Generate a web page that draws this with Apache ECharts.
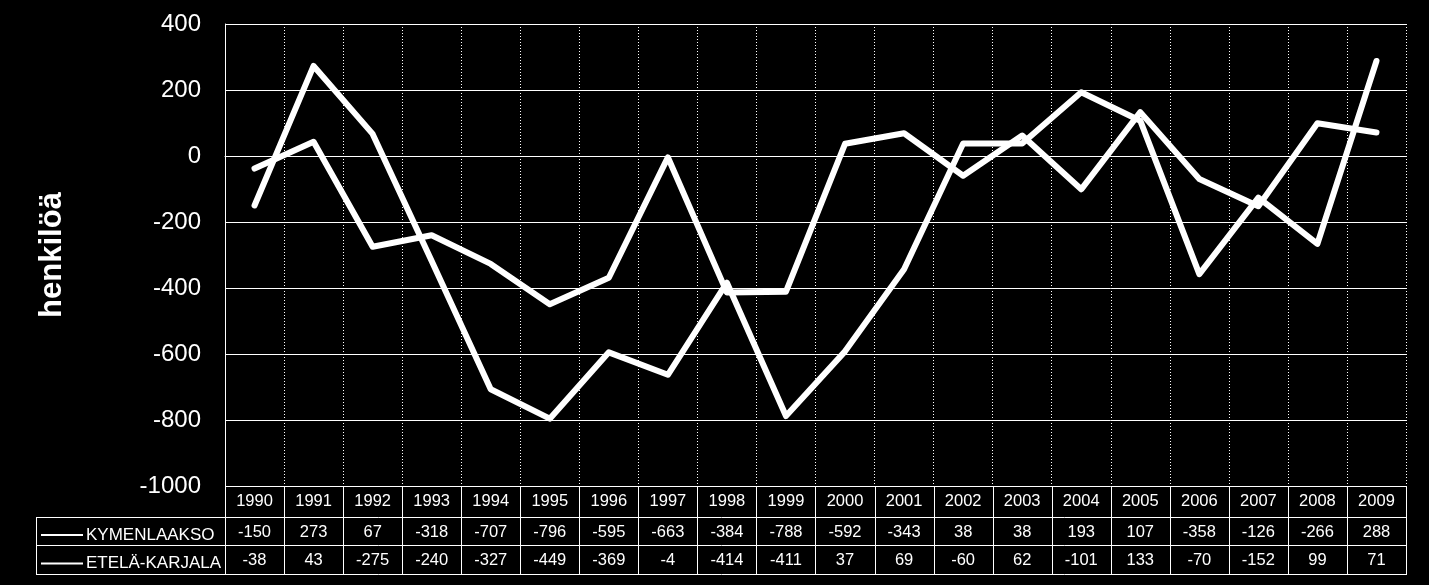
<!DOCTYPE html>
<html>
<head>
<meta charset="utf-8">
<style>
html,body{margin:0;padding:0;background:#000;}
#chart{width:1429px;height:585px;}
</style>
<script src="https://cdn.jsdelivr.net/npm/echarts@6/dist/echarts.min.js"></script>
</head>
<body>
<div id="chart"></div>
<script>
var years = ['1990','1991','1992','1993','1994','1995','1996','1997','1998','1999','2000','2001','2002','2003','2004','2005','2006','2007','2008','2009'];
var kymenlaakso = [-150, 273, 67, -318, -707, -796, -595, -663, -384, -788, -592, -343, 38, 38, 193, 107, -358, -126, -266, 288];
var etelaKarjala = [-38, 43, -275, -240, -327, -449, -369, -4, -414, -411, 37, 69, -60, 62, -101, 133, -70, -152, 99, 71];
var seriesNames = ['KYMENLAAKSO', 'ETELÄ-KARJALA'];
var yTicks = {min: -1000, max: 400, interval: 200};
var yTitle = 'henkilöä';

var sans = '"Liberation Sans",Arial,sans-serif';
var tableFont = 16.5;

var L = 225, R = 1406, T = 24, B = 486;
var rowY = [486, 517, 545, 574];
var tableLeft = 36;

var chart = echarts.init(document.getElementById('chart'));

function rowAxis(values, offset, margin) {
  return {
    type: 'category', data: years, gridIndex: 0, position: 'bottom', offset: offset,
    boundaryGap: true,
    axisLine: {show: false}, axisTick: {show: false}, splitLine: {show: false},
    axisLabel: {
      interval: 0, color: '#fff', fontFamily: sans, fontSize: tableFont, margin: margin,
      formatter: function (v, i) { return String(values[i]); }
    }
  };
}

function hline(x1, x2, y) {
  return {type: 'line', silent: true, z: 10,
    shape: {x1: x1, y1: y + 0.5, x2: x2, y2: y + 0.5},
    style: {stroke: '#fff', lineWidth: 1}};
}
function vline(x, y1, y2) {
  return {type: 'line', silent: true, z: 10,
    shape: {x1: x + 0.5, y1: y1, x2: x + 0.5, y2: y2},
    style: {stroke: '#fff', lineWidth: 1}};
}

function legendFor(name, top) {
  return {
    data: [name], left: 36, top: top, orient: 'horizontal',
    icon: 'rect', itemWidth: 42, itemHeight: 2, itemGap: 4,
    textStyle: {color: '#fff', fontFamily: sans, fontSize: 17, padding: [0, 0, 0, -2]},
    inactiveColor: '#fff', selectedMode: false
  };
}

chart.setOption({
  backgroundColor: '#000',
  animation: false,
  grid: {left: L, right: 1429 - R, top: T, bottom: 585 - B, containLabel: false},
  legend: [legendFor(seriesNames[0], 521.5), legendFor(seriesNames[1], 550)],
  xAxis: [
    {
      type: 'category', data: years, gridIndex: 0, position: 'bottom', boundaryGap: true,
      axisLine: {show: true, lineStyle: {color: '#fff', width: 1}},
      axisTick: {show: false},
      axisLabel: {interval: 0, color: '#fff', fontFamily: sans, fontSize: tableFont, margin: 7},
      splitLine: {show: true, interval: 0, lineStyle: {color: '#fff', width: 1, type: [1, 2]}}
    },
    rowAxis(kymenlaakso, rowY[1] - rowY[0], 6.5),
    rowAxis(etelaKarjala, rowY[2] - rowY[0], 7)
  ],
  yAxis: {
    type: 'value', min: yTicks.min, max: yTicks.max, interval: yTicks.interval,
    name: yTitle, nameLocation: 'middle', nameRotate: 90, nameGap: 157,
    nameTextStyle: {color: '#fff', fontFamily: sans, fontSize: 31, fontWeight: 'bold'},
    axisLine: {show: true, lineStyle: {color: '#fff', width: 1}},
    axisTick: {show: false},
    axisLabel: {color: '#fff', fontFamily: sans, fontSize: 24, margin: 24,
      formatter: function (v) { return String(v); }},
    splitLine: {show: true, lineStyle: {color: '#fff', width: 1, type: 'solid'}}
  },
  series: [
    {name: seriesNames[0], type: 'line', data: kymenlaakso, xAxisIndex: 0,
      showSymbol: false, symbol: 'none', color: '#fff',
      lineStyle: {color: '#fff', width: 6, cap: 'round', join: 'round'}},
    {name: seriesNames[1], type: 'line', data: etelaKarjala, xAxisIndex: 0,
      showSymbol: false, symbol: 'none', color: '#fff',
      lineStyle: {color: '#fff', width: 6, cap: 'round', join: 'round'}}
  ]
});

// table borders: column boundaries taken from the x axis scale
var graphics = [];
graphics.push(hline(tableLeft, R + 1, rowY[1]));
graphics.push(hline(tableLeft, R + 1, rowY[2]));
graphics.push(hline(tableLeft, R + 1, rowY[3]));
graphics.push(vline(tableLeft, rowY[1], rowY[3] + 1));
var p0 = chart.convertToPixel({xAxisIndex: 0}, years[0]);
var p1 = chart.convertToPixel({xAxisIndex: 0}, years[1]);
var step = p1 - p0;
for (var i = 0; i <= years.length; i++) {
  var x = Math.round(p0 - step / 2 + i * step);
  if (i === years.length) x = R;
  graphics.push(vline(x, rowY[0], rowY[3] + 1));
}
chart.setOption({graphic: graphics});
</script>
</body>
</html>
